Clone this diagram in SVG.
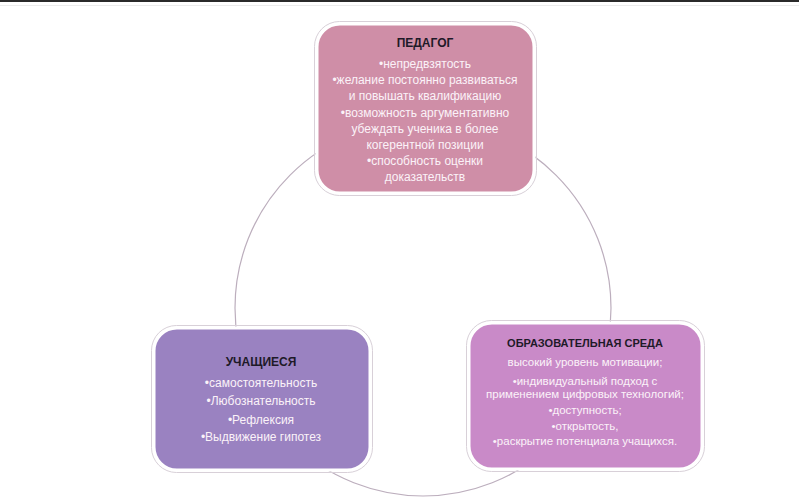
<svg xmlns="http://www.w3.org/2000/svg" width="799" height="500" viewBox="0 0 799 500">
<style>
.frame{stroke:#ffffff;stroke-width:3}
.halo{fill:none;stroke:#d8d0d8;stroke-width:1}
.h{font-family:"Liberation Sans",Arial,sans-serif;font-size:12px;font-weight:bold;fill:#1e1a28;text-anchor:middle}
.t{font-family:"Liberation Sans",Arial,sans-serif;font-size:12px;fill:#fbf2f8;text-anchor:middle}
.s{font-size:11.5px}
.hs{font-size:11px}
</style>
<rect width="799" height="500" fill="#ffffff"/>
<rect x="0" y="0" width="799" height="2" fill="#2a2a2a"/>
<line x1="0" y1="5.5" x2="799" y2="5.5" stroke="#ececec" stroke-width="1"/>
<g id="connectors">
<circle cx="423" cy="308" r="188" fill="none" stroke="#bcaebd" stroke-width="1.2"/>
</g>
<g id="pedagog">
<rect class="halo" x="314.5" y="21.5" width="222" height="174" rx="25"/>
<rect class="frame" x="317" y="24" width="217" height="169" rx="23" fill="#cf8ea7"/>
<text class="h" x="425" y="47">ПЕДАГОГ</text>
<text class="t" x="425" y="68">•непредвзятость</text>
<text class="t" x="425" y="84">•желание постоянно развиваться</text>
<text class="t" x="425" y="100">и повышать квалификацию</text>
<text class="t" x="425" y="117">•возможность аргументативно</text>
<text class="t" x="425" y="133">убеждать ученика в более</text>
<text class="t" x="425" y="149">когерентной позиции</text>
<text class="t" x="425" y="165">•способность оценки</text>
<text class="t" x="425" y="181">доказательств</text>
</g>
<g id="uchaschiesya">
<rect class="halo" x="151.5" y="325.5" width="221" height="147" rx="25"/>
<rect class="frame" x="154" y="328" width="216" height="142" rx="23" fill="#9a82c1"/>
<text class="h" x="261" y="366">УЧАЩИЕСЯ</text>
<text class="t" x="261" y="387">•самостоятельность</text>
<text class="t" x="261" y="405">•Любознательность</text>
<text class="t" x="261" y="424">•Рефлексия</text>
<text class="t" x="261" y="441">•Выдвижение гипотез</text>
</g>
<g id="sreda">
<rect class="halo" x="466.5" y="320.5" width="238" height="151" rx="25"/>
<rect class="frame" x="469" y="323" width="233" height="146" rx="23" fill="#c98ac8"/>
<text class="h hs" x="585" y="347">ОБРАЗОВАТЕЛЬНАЯ СРЕДА</text>
<text class="t s" x="585" y="366">высокий уровень мотивации;</text>
<text class="t s" x="585" y="385">•индивидуальный подход с</text>
<text class="t s" x="585" y="398">применением цифровых технологий;</text>
<text class="t s" x="585" y="414">•доступность;</text>
<text class="t s" x="585" y="430">•открытость,</text>
<text class="t s" x="585" y="445">•раскрытие потенциала учащихся.</text>
</g>
</svg>
